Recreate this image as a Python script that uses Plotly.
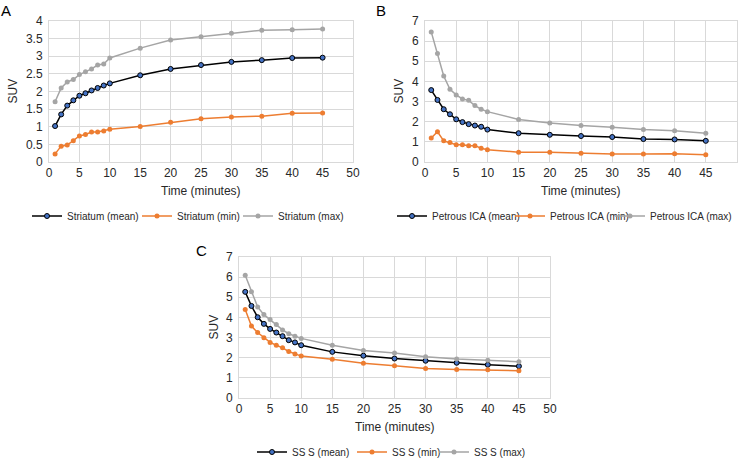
import plotly.graph_objects as go

# sampling times (minutes)
time_min = [1, 2, 3, 4, 5, 6, 7, 8, 9, 10, 15, 20, 25, 30, 35, 40, 45]

# A - Striatum
striatum_mean = [1.02, 1.35, 1.60, 1.75, 1.88, 1.95, 2.03, 2.10, 2.17, 2.23, 2.46, 2.64, 2.75, 2.84, 2.89, 2.95, 2.96]
striatum_min = [0.23, 0.45, 0.48, 0.60, 0.74, 0.78, 0.85, 0.85, 0.88, 0.93, 1.01, 1.13, 1.23, 1.28, 1.30, 1.38, 1.39]
striatum_max = [1.71, 2.10, 2.27, 2.34, 2.48, 2.56, 2.64, 2.75, 2.78, 2.95, 3.23, 3.46, 3.55, 3.65, 3.74, 3.75, 3.77]

# B - Petrous ICA
petrous_mean = [3.57, 3.08, 2.62, 2.37, 2.12, 1.98, 1.88, 1.81, 1.75, 1.61, 1.43, 1.35, 1.29, 1.24, 1.14, 1.12, 1.05]
petrous_min = [1.19, 1.50, 1.05, 0.97, 0.86, 0.86, 0.81, 0.81, 0.68, 0.61, 0.49, 0.48, 0.43, 0.40, 0.40, 0.41, 0.36]
petrous_max = [6.46, 5.39, 4.27, 3.61, 3.33, 3.13, 3.06, 2.80, 2.62, 2.50, 2.11, 1.94, 1.81, 1.73, 1.61, 1.55, 1.43]

# C - SS S
sss_mean = [5.27, 4.57, 4.01, 3.68, 3.43, 3.25, 3.07, 2.87, 2.76, 2.62, 2.29, 2.10, 1.96, 1.85, 1.75, 1.65, 1.58]
sss_min = [4.39, 3.57, 3.25, 2.99, 2.76, 2.62, 2.49, 2.31, 2.18, 2.08, 1.92, 1.73, 1.60, 1.47, 1.42, 1.40, 1.35]
sss_max = [6.09, 5.27, 4.52, 4.14, 3.90, 3.65, 3.38, 3.19, 3.07, 2.96, 2.62, 2.36, 2.23, 2.05, 1.93, 1.87, 1.80]

W, H = 742, 458
FONT = 'Liberation Sans, Arial, sans-serif'
TXT = 'rgb(40,40,40)'
GRID = 'rgb(217,217,217)'


def px_x(p):
    return p / W


def px_y(p):
    return 1 - p / H


# plot areas in pixels (left, right, top, bottom)
panels = [
    dict(name='Striatum', data=(striatum_mean, striatum_min, striatum_max),
         box=(49, 353, 21, 162), ymax=4, dtick=0.5, letter='A', letter_xy=(6, 10),
         suv_x=12, legend_xy=(27, 216), entry=[65, 56, 72], ax=''),
    dict(name='Petrous ICA', data=(petrous_mean, petrous_min, petrous_max),
         box=(425, 737, 21, 162), ymax=7, dtick=1, letter='B', letter_xy=(381, 10),
         suv_x=398, legend_xy=(392, 216), entry=[73, 55, 90], ax='2'),
    dict(name='SS S', data=(sss_mean, sss_min, sss_max),
         box=(239, 550, 257, 398), ymax=7, dtick=1, letter='C', letter_xy=(201, 250),
         suv_x=213, legend_xy=(252, 452), entry=[55, 37, 58], ax='3'),
]

colors = ['black', 'rgb(237,125,49)', 'rgb(165,165,165)']
suffix = ['mean', 'min', 'max']

fig = go.Figure()
annotations = []
layout = {}

for k, p in enumerate(panels):
    leg = 'legend' if k == 0 else 'legend%d' % (k + 1)
    for i in range(3):
        if i == 0:
            marker = dict(color='rgb(68,114,196)', size=5, line=dict(color='black', width=1))
        else:
            marker = dict(color=colors[i], size=5)
        fig.add_trace(go.Scatter(
            x=time_min, y=p['data'][i], mode='lines+markers',
            name='%s (%s)' % (p['name'], suffix[i]),
            line=dict(color=colors[i], width=1.5),
            marker=marker,
            xaxis='x' + p['ax'], yaxis='y' + p['ax'],
            legend=leg, legendwidth=p['entry'][i],
        ))

    l, r, t, b = p['box']
    layout['xaxis' + p['ax']] = dict(
        domain=[px_x(l), px_x(r)], range=[0, 50], dtick=5, anchor='y' + p['ax'],
        showgrid=True, gridcolor=GRID, zeroline=False, automargin=False,
        showline=True, linecolor=GRID, mirror=True,
        tickfont=dict(family=FONT, size=12, color=TXT), ticks='',
    )
    layout['yaxis' + p['ax']] = dict(
        domain=[px_y(b), px_y(t)], range=[0, p['ymax']], dtick=p['dtick'], anchor='x' + p['ax'],
        showgrid=True, gridcolor=GRID, zeroline=False, automargin=False,
        showline=True, linecolor=GRID, mirror=True, ticklabelstandoff=3,
        tickfont=dict(family=FONT, size=12, color=TXT), ticks='',
    )
    layout[leg] = dict(
        orientation='h', x=px_x(p['legend_xy'][0]), y=px_y(p['legend_xy'][1]),
        xanchor='left', yanchor='middle', bgcolor='rgba(0,0,0,0)',
        font=dict(family=FONT, size=10, color=TXT), itemwidth=30,
    )

    # axis titles
    annotations.append(dict(xref='paper', yref='paper', x=px_x((l + r) / 2), y=px_y(b + 29),
                            text='Time (minutes)', showarrow=False, xanchor='center', yanchor='middle',
                            font=dict(family=FONT, size=12, color=TXT)))
    annotations.append(dict(xref='paper', yref='paper', x=px_x(p['suv_x']), y=px_y((t + b) / 2),
                            text='SUV', showarrow=False, textangle=-90, xanchor='center', yanchor='middle',
                            font=dict(family=FONT, size=12, color=TXT)))
    # panel letter
    annotations.append(dict(xref='paper', yref='paper', x=px_x(p['letter_xy'][0]), y=px_y(p['letter_xy'][1]),
                            text=p['letter'], showarrow=False, xanchor='center', yanchor='middle',
                            font=dict(family=FONT, size=15, color='black')))

fig.update_layout(**layout)
fig.update_layout(
    width=W, height=H,
    margin=dict(l=0, r=0, t=0, b=0, autoexpand=False),
    plot_bgcolor='white', paper_bgcolor='white',
    showlegend=True,
    annotations=annotations,
)

# page body has a default 8px margin; drop it so the figure sits at the window corner
fig.write_html("out.html", config={'displayModeBar': False},
               post_script="document.body.style.margin='0';")
